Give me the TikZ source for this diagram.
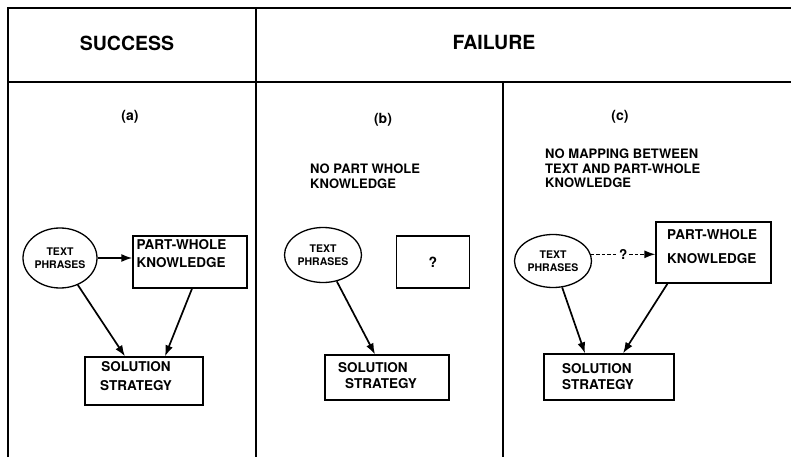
\documentclass[tikz,border=0pt]{standalone}
\usepackage{fontspec}
\setmainfont{TeX Gyre Heros}
\usetikzlibrary{shapes.geometric, arrows.meta, positioning}
\tikzset{
  box/.style={rectangle, draw, line width=1.3pt, inner sep=0pt},
  blob/.style={ellipse, draw, line width=1.3pt, inner sep=0pt, align=center, font=\bfseries\fontsize{10.5}{13.5}\selectfont},
  boxtext/.style={inner sep=0pt, align=left, font=\bfseries\fontsize{13.5}{16}\selectfont},
  heading/.style={inner sep=0pt, font=\bfseries\fontsize{19.5}{20}\selectfont},
  note/.style={inner sep=0pt, align=left, font=\bfseries\fontsize{13}{14.5}\selectfont},
  arrow/.style={-{Latex[length=11pt,width=8pt]}, line width=1.7pt},
  frame/.style={line width=1.1pt},
}
\begin{document}
\begin{tikzpicture}[x=1pt, y=-1pt]
    \useasboundingbox (0,0) rectangle (791,457);
    % table lines
    \draw[frame] (8,457) -- (8,8) -- (791,8);
    \draw[frame] (8,82) -- (791,82);
    \draw[frame] (256,8) -- (256,457);
    \draw[frame] (503,82) -- (503,457);
    \node[heading] (success) at (127,43) {SUCCESS};
    \node[heading] (failure) at (494,43) {FAILURE};
    \node[note, font=\bfseries\fontsize{14}{14.5}\selectfont] (laba) at (130,117) {(a)};
    \node[note, font=\bfseries\fontsize{14}{14.5}\selectfont] (labb) at (383,120) {(b)};
    \node[note, font=\bfseries\fontsize{14}{14.5}\selectfont] (labc) at (620,117) {(c)};
    \node[note, anchor=north west] (noteb) at (310,164) {NO PART WHOLE\\KNOWLEDGE};
    \node[note, anchor=north west] (notec) at (545,149) {NO MAPPING BETWEEN\\TEXT AND PART-WHOLE\\KNOWLEDGE};

    % (a)
    \node[blob, minimum width=74pt, minimum height=60pt] (tpa) at (60,258) {TEXT\\PHRASES};
    \node[box, minimum width=114pt, minimum height=52pt] (pwa) at (190,262) {};
    \node[boxtext, anchor=north west, font=\bfseries\fontsize{13.5}{18}\selectfont] (pwa-txt) at ([shift={(4,4)}]pwa.north west) {PART-WHOLE\\KNOWLEDGE};
    \node[box, minimum width=118pt, minimum height=48pt] (soa) at (144,381) {};
    \node[boxtext, anchor=north, align=center, font=\bfseries\fontsize{13.5}{19}\selectfont] (soa-txt) at ([shift={(-8,5)}]soa.north) {SOLUTION\\STRATEGY};
    \draw[arrow] (tpa.east) -- (tpa.east -| pwa.west);
    \draw[arrow] (tpa) -- ([xshift=-19pt]soa.north);
    \draw[arrow] ([xshift=2pt]pwa.south) -- ([xshift=21pt]soa.north);

    % (b)
    \node[blob, minimum width=77pt, minimum height=55pt] (tpb) at (323,255) {TEXT\\PHRASES};
    \node[box, minimum width=73pt, minimum height=52pt, font=\bfseries\fontsize{14}{16}\selectfont] (qb) at (433,262) {?};
    \node[box, minimum width=124pt, minimum height=45pt] (sob) at (387,377.5) {};
    \node[boxtext, anchor=north west] (sob-txt) at (338,362) {SOLUTION\\\hspace*{7pt}STRATEGY};
    \draw[arrow] (tpb) -- ([xshift=-12pt]sob.north);

    % (c)
    \node[blob, minimum width=77pt, minimum height=53pt] (tpc) at (553,261) {TEXT\\PHRASES};
    \node[box, minimum width=115pt, minimum height=61pt] (pwc) at (713.5,252.5) {};
    \node[boxtext, anchor=north west, font=\bfseries\fontsize{13.5}{24}\selectfont] (pwc-txt) at (667,229) {PART-WHOLE\\KNOWLEDGE};
    \node[box, minimum width=130pt, minimum height=46pt] (soc) at (609,377) {};
    \node[boxtext, anchor=north west] (soc-txt) at (562,363) {SOLUTION\\STRATEGY};
    \draw[arrow, line width=1.4pt, dash pattern=on 3.5pt off 2pt] (tpc.10) -- node[fill=white, inner sep=1pt, font=\bfseries\fontsize{13.5}{16}\selectfont] {?} (tpc.10 -| pwc.west);
    \draw[arrow] (tpc) -- ([xshift=-24pt]soc.north);
    \draw[arrow] ([xshift=-46pt]pwc.south) -- ([xshift=14pt]soc.north);
\end{tikzpicture}
\end{document}
